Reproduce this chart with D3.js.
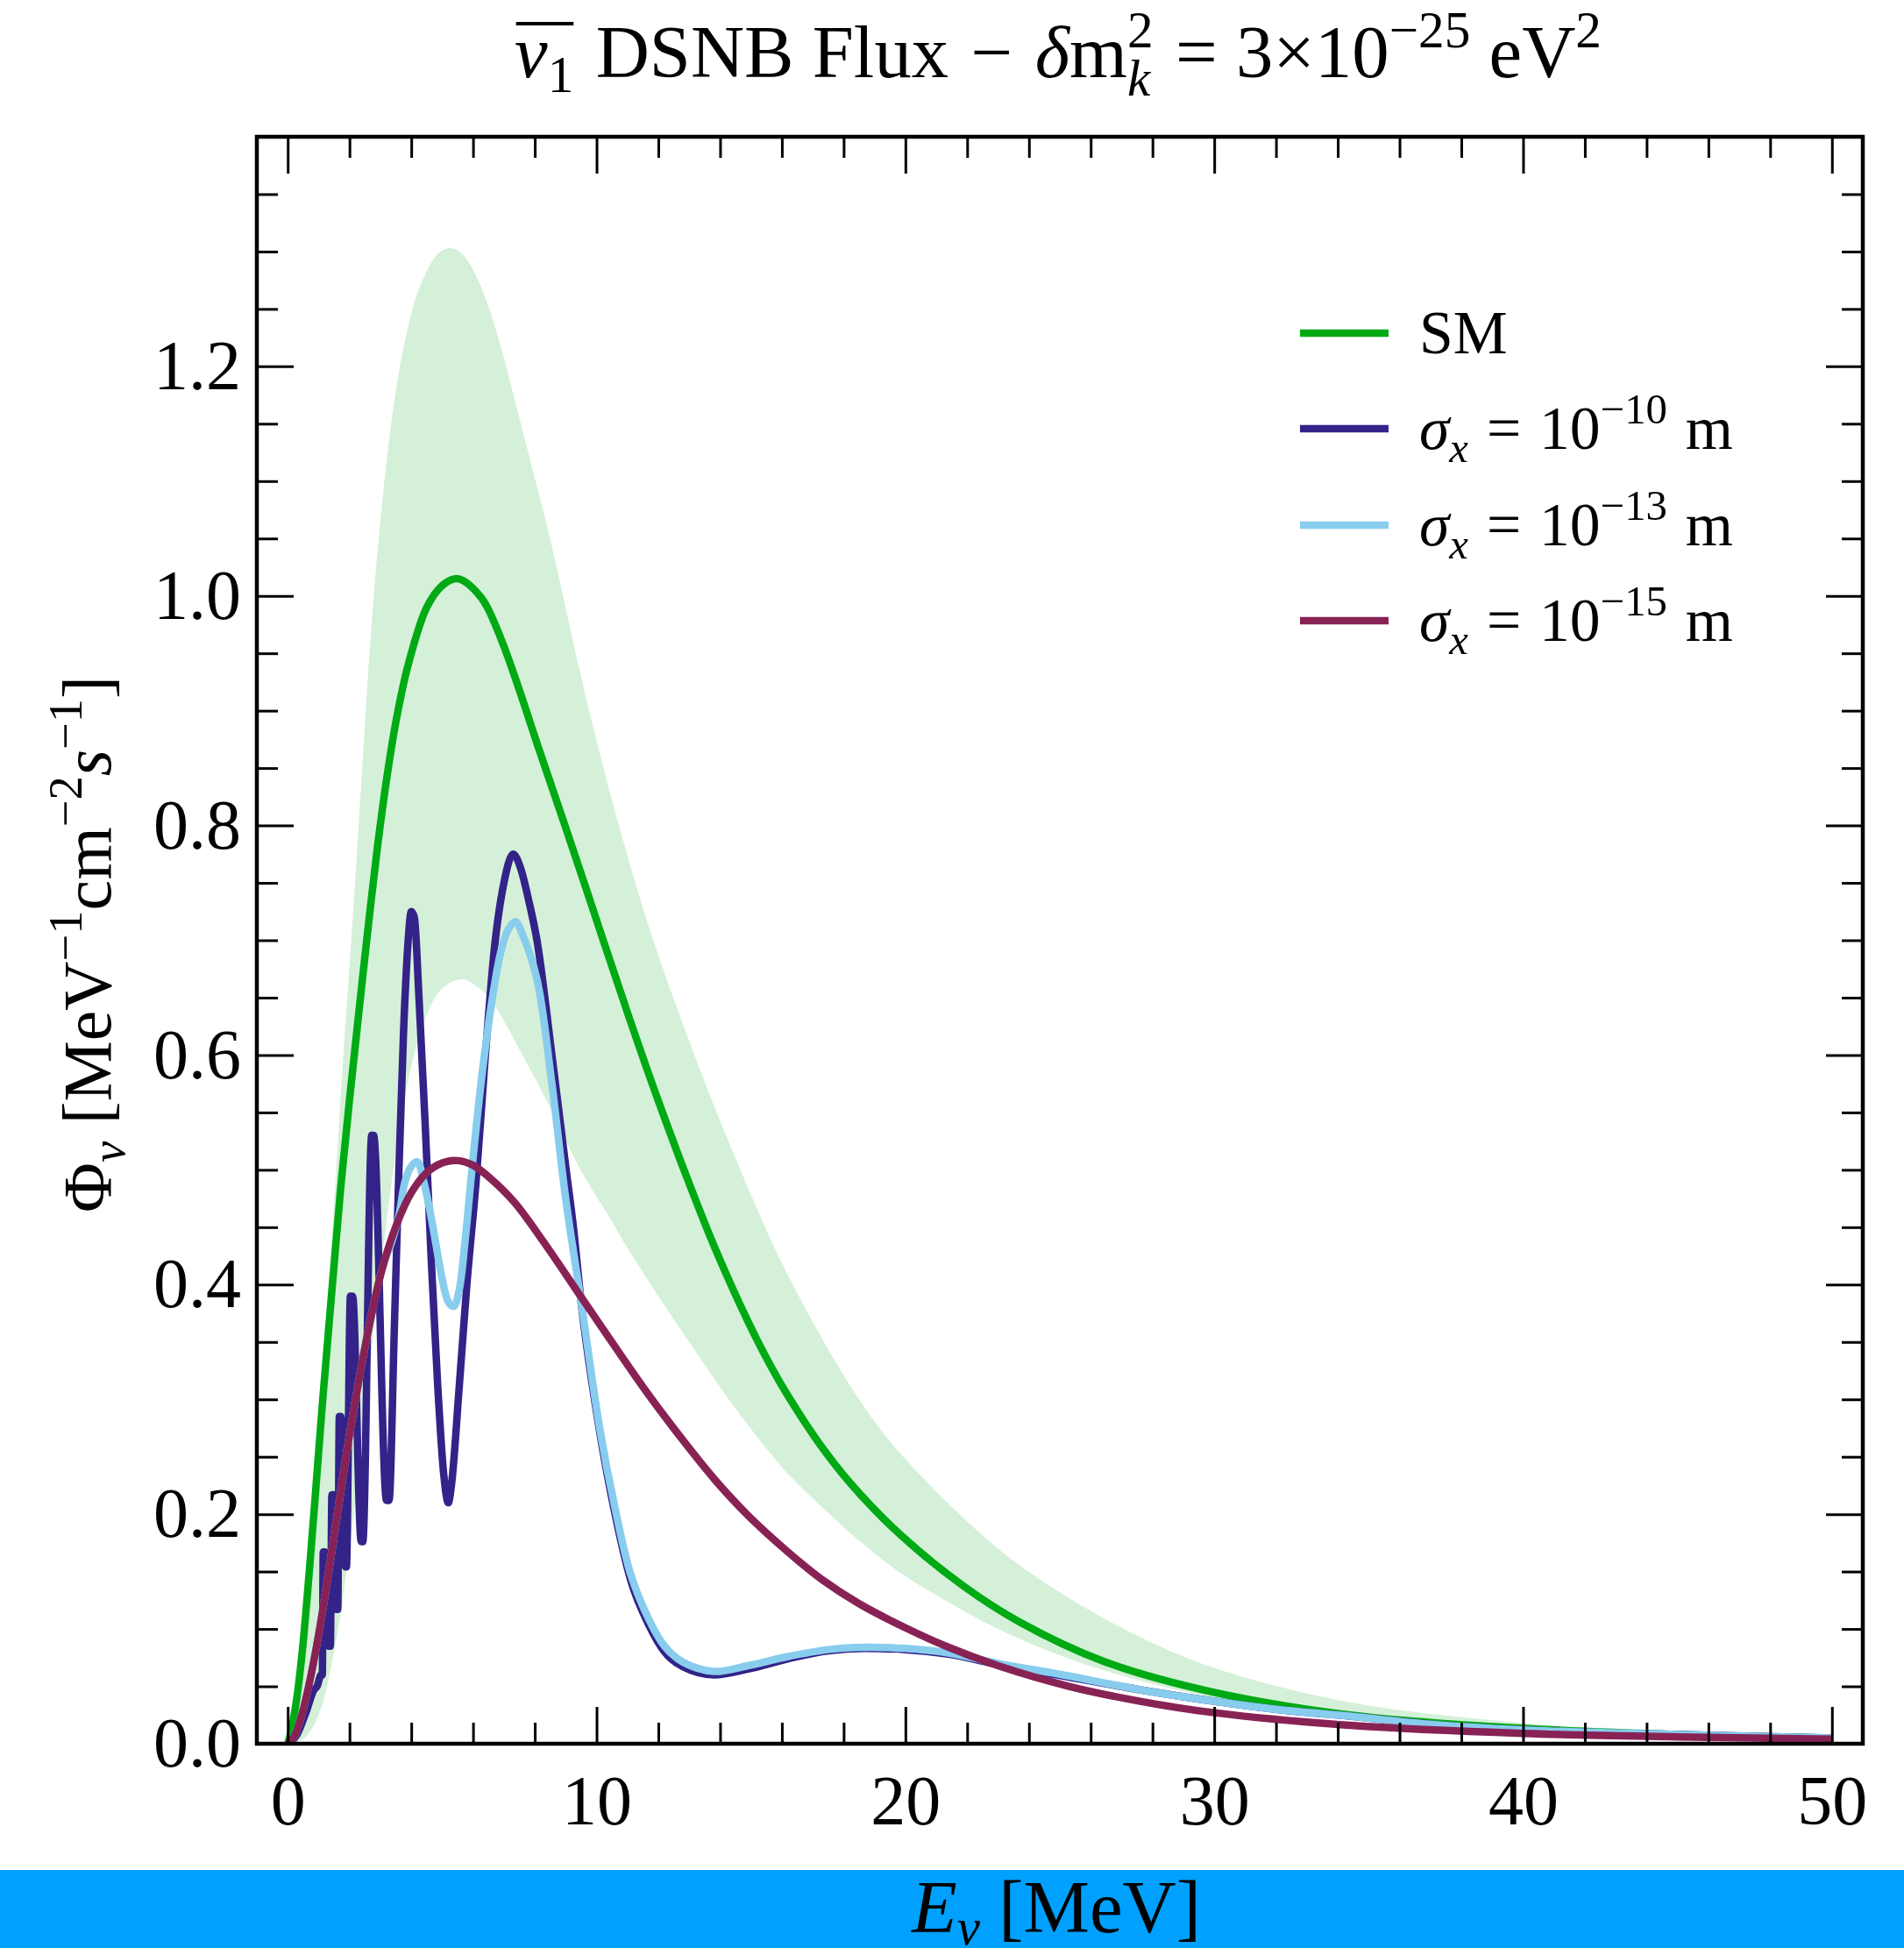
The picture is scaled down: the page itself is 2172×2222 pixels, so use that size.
<!DOCTYPE html>
<html>
<head>
<meta charset="utf-8">
<script src="https://cdn.jsdelivr.net/npm/d3@7"></script>
<style>
  html, body { margin: 0; padding: 0; background: #ffffff; }
  svg { display: block; }
</style>
</head>
<body>
<svg id="chart" width="2172" height="2222"></svg>
<script>
// ---------------- DATA ----------------
// Standard Model flux (green line)
const smE   = [0,0.1,0.29,0.48,0.67,0.86,1.14,1.43,1.71,2.0,2.29,2.57,2.9,3.2,3.5,3.9,4.5,5.0,5.45,5.7,6.25,6.5,7.0,7.5,8.14,8.95,9.76,10.24,11.0,12.0,13.0,13.83,14.9,15.66,16.2,17.2,18.25,19.84,21.9,23.7,26.4,29.8,34.4,38.9,45,50];
const smPhi = [0,0.01,0.039,0.083,0.141,0.205,0.302,0.395,0.483,0.561,0.634,0.703,0.78,0.84,0.89,0.94,0.99,1.009,1.015,1.013,0.999,0.988,0.956,0.918,0.866,0.802,0.737,0.698,0.637,0.56,0.488,0.432,0.368,0.328,0.303,0.262,0.226,0.182,0.137,0.106,0.072,0.046,0.025,0.015,0.008,0.005];

// SM uncertainty band (upper and lower edges)
const bandUpE   = [0,0.3,0.6,0.9,1.2,1.5,1.8,2.1,2.4,2.7,3.0,3.3,3.6,3.9,4.2,4.6,4.9,5.23,5.5,5.8,6.2,6.5,6.9,7.32,7.9,8.45,9.76,10.9,11.8,13.0,14.5,16.2,18.5,20,23,25.3,27.6,30,34.4,40,45,50];
const bandUpPhi = [0,0.04,0.12,0.23,0.35,0.47,0.6,0.717,0.845,0.97,1.065,1.14,1.195,1.235,1.264,1.288,1.299,1.303,1.301,1.293,1.273,1.252,1.217,1.174,1.113,1.055,0.9,0.783,0.703,0.612,0.51,0.408,0.3,0.248,0.17,0.127,0.093,0.066,0.036,0.018,0.01,0.006];
const bandLoE   = [0,0.5,1.0,1.5,2.0,2.5,3.0,3.5,4.0,4.5,5.0,5.65,6.2,6.65,7.6,8.54,9.48,10.43,11.0,12.0,13.3,14.5,15.66,16.2,18.5,20,23,25.3,27.6,30,34.4,40,45,50];
const bandLoPhi = [0,0.004,0.025,0.08,0.17,0.29,0.41,0.515,0.59,0.635,0.658,0.666,0.658,0.645,0.6,0.552,0.5,0.458,0.432,0.39,0.338,0.292,0.252,0.235,0.177,0.146,0.100,0.074,0.055,0.040,0.022,0.012,0.007,0.004];

// sigma_x = 1e-10 m (dark blue)
const s10E   = [0,0.3,0.6,0.85,0.95,1.08,1.12,1.15,1.2,1.33,1.38,1.43,1.48,1.58,1.62,1.67,1.72,1.87,1.9,2.03,2.1,2.38,2.43,2.72,2.78,3.2,3.28,3.45,3.6,3.75,3.9,4.0,4.1,4.25,4.45,4.65,4.85,5.05,5.2,5.3,5.55,5.8,6.1,6.4,6.7,7.0,7.3,7.55,7.8,8.07,8.54,9.01,9.25,9.5,10.1,10.6,11.1,11.7,12.2,12.8,13.8,14.9,16.2,17.5,18.7,20,21.4,23,25.3,27.6,30,32,34.4,37,40,45,50];
const s10Phi = [0,0.008,0.028,0.047,0.05,0.06,0.06,0.167,0.167,0.085,0.085,0.217,0.217,0.117,0.117,0.285,0.285,0.154,0.154,0.39,0.39,0.176,0.176,0.53,0.53,0.212,0.212,0.36,0.5,0.62,0.7,0.725,0.72,0.65,0.54,0.42,0.315,0.235,0.21,0.225,0.31,0.4,0.49,0.6,0.695,0.75,0.775,0.762,0.735,0.7,0.603,0.501,0.45,0.385,0.272,0.2,0.143,0.103,0.08,0.067,0.06,0.065,0.074,0.081,0.083,0.082,0.078,0.069,0.058,0.047,0.037,0.030,0.024,0.017,0.012,0.008,0.005];

// sigma_x = 1e-13 m (light blue)
const s13E   = [0,0.2,0.4,0.67,1.0,1.4,1.8,2.1,2.57,3.05,3.4,3.6,3.8,4.0,4.2,4.4,4.6,4.8,5.0,5.2,5.38,5.55,5.75,6.0,6.3,6.6,6.9,7.15,7.38,7.6,8.07,8.54,9.0,9.5,10.1,10.6,11.1,11.7,12.2,12.8,13.8,14.9,16.2,17.5,18.7,20,21.4,23,25.3,27.6,30,32,34.4,37,40,45,50];
const s13Phi = [0,0.006,0.02,0.049,0.095,0.163,0.235,0.285,0.355,0.413,0.44,0.46,0.49,0.503,0.507,0.49,0.465,0.435,0.405,0.385,0.381,0.395,0.44,0.51,0.585,0.645,0.69,0.71,0.716,0.705,0.666,0.578,0.475,0.385,0.275,0.205,0.148,0.108,0.085,0.071,0.063,0.068,0.076,0.082,0.084,0.083,0.079,0.070,0.059,0.047,0.037,0.030,0.024,0.017,0.012,0.008,0.005];

// sigma_x = 1e-15 m (purple)
const s15E   = [0,0.2,0.4,0.67,1.0,1.4,1.8,2.1,2.57,3.05,3.52,4.0,4.48,5.0,5.5,6.0,6.5,7.33,8.29,9.48,10.57,11.66,12.75,13.83,14.9,16.2,17.3,18.5,20,21.4,23,25.3,27.6,30,34.4,40,45,50];
const s15Phi = [0,0.006,0.02,0.049,0.095,0.163,0.235,0.285,0.355,0.413,0.452,0.48,0.497,0.506,0.508,0.504,0.494,0.472,0.437,0.39,0.347,0.305,0.266,0.23,0.199,0.167,0.143,0.122,0.101,0.084,0.068,0.05,0.037,0.027,0.016,0.009,0.006,0.004];

const xMajorTicks = [0,10,20,30,40,50];
const xMinorTicks = [2,4,6,8,12,14,16,18,22,24,26,28,32,34,36,38,42,44,46,48];
const yMajorTicks = [0.0,0.2,0.4,0.6,0.8,1.0,1.2];
const yMinorTicks = [0.05,0.1,0.15,0.25,0.3,0.35,0.45,0.5,0.55,0.65,0.7,0.75,0.85,0.9,0.95,1.05,1.1,1.15,1.25,1.3,1.35];

const seriesColors = ["#00aa14", "#332288", "#88ccee", "#882255"];

// ---------------- LAYOUT ----------------
const W = 2172, H = 2222;
const L = 293, R = 2125, T = 156, B = 1989;
const FONT = "'Liberation Serif', 'Times New Roman', Times, serif";

const svg = d3.select("#chart");
svg.append("rect").attr("width", W).attr("height", H).attr("fill", "#ffffff");

const x = d3.scaleLinear().domain([-1.0, 51.0]).range([L, R]);
const y = d3.scaleLinear().domain([0, 1.4]).range([B, T]);

const defs = svg.append("defs");
defs.append("clipPath").attr("id", "clip")
  .append("rect").attr("x", L).attr("y", T).attr("width", R - L).attr("height", B - T);

const plot = svg.append("g").attr("clip-path", "url(#clip)");

function zipXY(xs, ys) { return xs.map((v, i) => [v, ys[i]]); }

const smooth = d3.line().x(d => x(d[0])).y(d => y(d[1])).curve(d3.curveCatmullRom.alpha(0.5));
const mono = d3.line().x(d => x(d[0])).y(d => y(d[1])).curve(d3.curveMonotoneX);

// band
const upPts = zipXY(bandUpE, bandUpPhi);
const loRev = zipXY(bandLoE, bandLoPhi).reverse();
plot.append("path")
  .attr("d", smooth(upPts) + "L" + smooth(loRev).slice(1) + "Z")
  .attr("fill", "#d5f0d8").attr("stroke", "none");

const lw = 8.5;
const curves = [
  {pts: zipXY(smE, smPhi), color: seriesColors[0], gen: smooth},
  {pts: zipXY(s10E, s10Phi), color: seriesColors[1], gen: mono},
  {pts: zipXY(s13E, s13Phi), color: seriesColors[2], gen: smooth},
  {pts: zipXY(s15E, s15Phi), color: seriesColors[3], gen: smooth},
];
curves.forEach(c => {
  plot.append("path").attr("d", c.gen(c.pts))
    .attr("fill", "none").attr("stroke", c.color)
    .attr("stroke-width", lw).attr("stroke-linejoin", "round").attr("stroke-linecap", "butt");
});

// ---------------- AXES (inward ticks on all four sides) ----------------
const MAJ = 42, MIN = 24, TICKW = 3;
function styleAxis(g, withLabels) {
  g.select(".domain").remove();
  g.selectAll(".tick line").attr("stroke", "#000").attr("stroke-width", TICKW);
  g.selectAll(".tick text").attr("font-family", FONT).attr("font-size", 80).attr("fill", "#000");
  if (!withLabels) g.selectAll(".tick text").remove();
}
svg.append("g").attr("transform", `translate(0,${B})`)
  .call(d3.axisBottom(x).tickValues(xMajorTicks).tickSize(-MAJ).tickPadding(35).tickFormat(d3.format("d")))
  .call(g => styleAxis(g, true));
svg.append("g").attr("transform", `translate(0,${B})`)
  .call(d3.axisBottom(x).tickValues(xMinorTicks).tickSize(-MIN).tickFormat(""))
  .call(g => styleAxis(g, false));
svg.append("g").attr("transform", `translate(0,${T})`)
  .call(d3.axisTop(x).tickValues(xMajorTicks).tickSize(-MAJ).tickFormat(""))
  .call(g => styleAxis(g, false));
svg.append("g").attr("transform", `translate(0,${T})`)
  .call(d3.axisTop(x).tickValues(xMinorTicks).tickSize(-MIN).tickFormat(""))
  .call(g => styleAxis(g, false));
svg.append("g").attr("transform", `translate(${L},0)`)
  .call(d3.axisLeft(y).tickValues(yMajorTicks).tickSize(-MAJ).tickPadding(18).tickFormat(d3.format(".1f")))
  .call(g => styleAxis(g, true));
svg.append("g").attr("transform", `translate(${L},0)`)
  .call(d3.axisLeft(y).tickValues(yMinorTicks).tickSize(-MIN).tickFormat(""))
  .call(g => styleAxis(g, false));
svg.append("g").attr("transform", `translate(${R},0)`)
  .call(d3.axisRight(y).tickValues(yMajorTicks).tickSize(-MAJ).tickFormat(""))
  .call(g => styleAxis(g, false));
svg.append("g").attr("transform", `translate(${R},0)`)
  .call(d3.axisRight(y).tickValues(yMinorTicks).tickSize(-MIN).tickFormat(""))
  .call(g => styleAxis(g, false));

// frame
svg.append("rect").attr("x", L).attr("y", T).attr("width", R - L).attr("height", B - T)
  .attr("fill", "none").attr("stroke", "#000").attr("stroke-width", 4.5);

// ---------------- rich text helper ----------------
function drawRuns(g, runs, base) {
  g.selectAll("*").remove();
  let cx = 0, hold = 0;
  const info = [];
  runs.forEach(r => {
    if (r.gap !== undefined) { cx += r.gap * base; return; }
    const fs = base * (r.s || 1);
    const t = g.append("text").attr("x", cx).attr("y", (r.dy || 0) * base)
      .attr("font-family", FONT).attr("font-size", fs)
      .attr("font-style", r.it ? "italic" : "normal").attr("fill", "#000").text(r.t);
    const w = t.node().getComputedTextLength();
    info.push({x0: cx, w: w, r: r});
    if (r.hold) { hold = Math.max(hold, w); }
    else { cx += Math.max(w, hold); hold = 0; }
  });
  return {width: cx, info: info};
}
function fitRuns(g, runs, base, targetW) {
  let res = drawRuns(g, runs, base);
  const nb = base * targetW / res.width;
  res = drawRuns(g, runs, nb);
  res.base = nb;
  return res;
}

// ---------------- TITLE ----------------
const titleRuns = [
  {t: "ν", it: true}, {t: "1", s: 0.7, dy: 0.2},
  {gap: 0.3}, {t: "DSNB Flux"}, {gap: 0.3}, {t: "−"}, {gap: 0.3},
  {t: "δ", it: true}, {t: "m"}, {t: "2", s: 0.7, dy: -0.4, hold: true}, {t: "k", it: true, s: 0.7, dy: 0.25},
  {gap: 0.3}, {t: "= 3×10"}, {t: "−25", s: 0.7, dy: -0.4}, {gap: 0.25}, {t: "eV"}, {t: "2", s: 0.7, dy: -0.4}
];
const titleG = svg.append("g");
const tr = fitRuns(titleG, titleRuns, 80, 1240);
titleG.attr("transform", `translate(${1207 - tr.width / 2},88)`);
// overline on nu_1
{
  const a = tr.info[0], b = tr.info[1];
  titleG.append("line")
    .attr("x1", a.x0 + 0.02 * tr.base).attr("x2", b.x0 + b.w)
    .attr("y1", -0.72 * tr.base).attr("y2", -0.72 * tr.base)
    .attr("stroke", "#000").attr("stroke-width", 4);
}

// ---------------- LEGEND ----------------
const legendLabels = [
  [{t: "SM"}],
  [{t: "σ", it: true}, {t: "x", it: true, s: 0.7, dy: 0.22}, {gap: 0.3}, {t: "="}, {gap: 0.3}, {t: "10"}, {t: "−10", s: 0.7, dy: -0.42}, {gap: 0.3}, {t: "m"}],
  [{t: "σ", it: true}, {t: "x", it: true, s: 0.7, dy: 0.22}, {gap: 0.3}, {t: "="}, {gap: 0.3}, {t: "10"}, {t: "−13", s: 0.7, dy: -0.42}, {gap: 0.3}, {t: "m"}],
  [{t: "σ", it: true}, {t: "x", it: true, s: 0.7, dy: 0.22}, {gap: 0.3}, {t: "="}, {gap: 0.3}, {t: "10"}, {t: "−15", s: 0.7, dy: -0.42}, {gap: 0.3}, {t: "m"}],
];
const legendY = [380, 489, 599, 708];
const legend = svg.append("g");
const probe = svg.append("g");
const pr = fitRuns(probe, legendLabels[1], 66, 358);
probe.remove();
const legBase = pr.base;
legendLabels.forEach((runs, i) => {
  legend.append("line").attr("x1", 1483).attr("x2", 1584)
    .attr("y1", legendY[i]).attr("y2", legendY[i])
    .attr("stroke", seriesColors[i]).attr("stroke-width", 8.5);
  const g = legend.append("g");
  drawRuns(g, runs, legBase);
  g.attr("transform", `translate(1619,${legendY[i] + 0.33 * legBase})`);
});

// ---------------- Y LABEL ----------------
const yLabelRuns = [
  {t: "Φ"}, {t: "ν", it: true, s: 0.7, dy: 0.2}, {gap: 0.25},
  {t: "[MeV"}, {t: "−1", s: 0.7, dy: -0.42}, {t: "cm"}, {t: "−2", s: 0.7, dy: -0.42},
  {t: "s", it: true}, {t: "−1", s: 0.7, dy: -0.42}, {t: "]"}
];
const yLab = svg.append("g");
const yr = fitRuns(yLab, yLabelRuns, 72, 612);
yLab.attr("transform", `translate(126,${1077 + yr.width / 2}) rotate(-90)`);

// ---------------- bottom band + X LABEL ----------------
svg.append("rect").attr("x", 0).attr("y", 2133).attr("width", W).attr("height", H - 2133).attr("fill", "#00a0ff");
const xLabelRuns = [{t: "E", it: true}, {t: "ν", it: true, s: 0.7, dy: 0.16}, {gap: 0.25}, {t: "[MeV]"}];
const xLab = svg.append("g");
const xr = fitRuns(xLab, xLabelRuns, 80, 330);
xLab.attr("transform", `translate(${1205 - xr.width / 2},2204)`);
</script>
</body>
</html>
